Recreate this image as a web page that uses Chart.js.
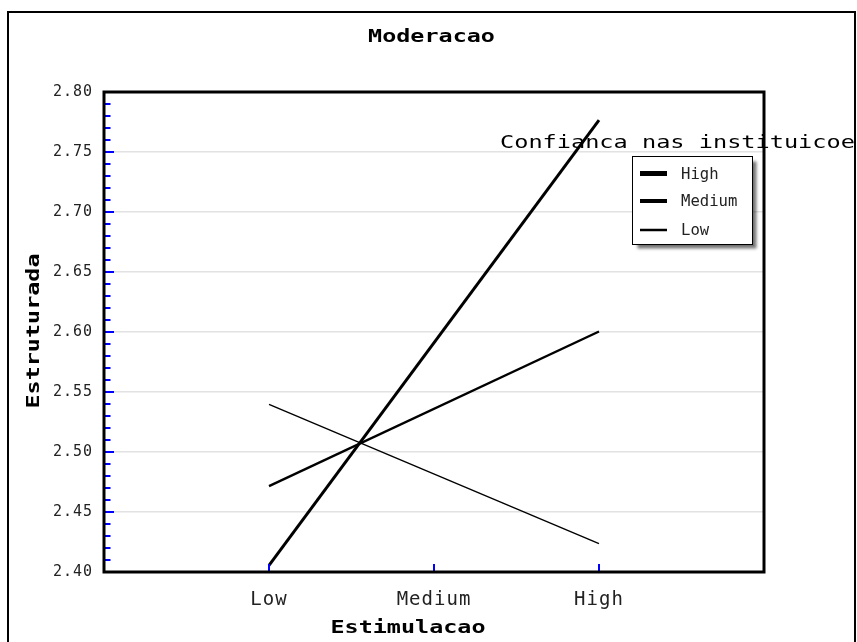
<!DOCTYPE html>
<html>
<head>
<meta charset="utf-8">
<script src="https://cdn.jsdelivr.net/npm/chart.js@4.4.1/dist/chart.umd.min.js"></script>
<style>
  html, body { margin: 0; padding: 0; background: #ffffff; }
  #c { display: block; }
</style>
</head>
<body>
<canvas id="c" width="857" height="642"></canvas>
<script>
// Levels of the focal predictor (x axis)
const levels = ['Low', 'Medium', 'High'];
// Levels at which the simple slopes are evaluated
const plottedLevels = ['Low', 'High'];
// Moderator groups
const seriesNames = ['High', 'Medium', 'Low'];
// Predicted values of the outcome per moderator group
const highValues = [2.4056, 2.7766];
const mediumValues = [2.4716, 2.6004];
const lowValues = [2.5397, 2.4237];
// Y axis ticks
const yTicks = [2.40, 2.45, 2.50, 2.55, 2.60, 2.65, 2.70, 2.75, 2.80];
const yMinorStep = 0.01;

const chartTitle = 'Moderacao';
const xTitle = 'Estimulacao';
const yTitle = 'Estruturada';
const legendTitle = 'Confianca nas instituicoes';

const MONO = '"DejaVu Sans Mono", "Liberation Mono", monospace';

const toPoints = vals => plottedLevels.map((lv, i) => ({ x: levels.indexOf(lv) + 1, y: vals[i] }));

const lineWidths = [3, 2.4, 1.4];
const legendWidths = [5, 4, 2.5];
const seriesValues = [highValues, mediumValues, lowValues];

const datasets = seriesNames.map((name, i) => ({
  label: name,
  data: toPoints(seriesValues[i]),
  showLine: true,
  borderColor: '#000000',
  backgroundColor: '#000000',
  borderWidth: lineWidths[i],
  pointRadius: 0,
  pointHoverRadius: 0,
  tension: 0
}));

// draws text widened horizontally by factor sx
function drawWide(ctx, text, x, y, sx, align) {
  ctx.save();
  ctx.letterSpacing = '0px';
  const w = ctx.measureText(text).width * sx;
  let start = x;
  if (align === 'center') start = x - w / 2;
  else if (align === 'right') start = x - w;
  ctx.translate(start, y);
  ctx.scale(sx, 1);
  ctx.textAlign = 'left';
  ctx.fillText(text, 0, 0);
  ctx.restore();
}

const decorations = {
  id: 'decorations',
  beforeDraw(chart) {
    const ctx = chart.ctx;
    ctx.save();
    ctx.fillStyle = '#ffffff';
    ctx.fillRect(0, 0, chart.width, chart.height);
    ctx.restore();
    ctx.letterSpacing = '1px';
  },
  afterDraw(chart) {
    const ctx = chart.ctx;
    const a = chart.chartArea;
    const xs = chart.scales.x;
    const ys = chart.scales.y;

    ctx.save();
    ctx.fillStyle = '#000000';
    ctx.textBaseline = 'alphabetic';

    // chart title
    ctx.font = 'bold 18px ' + MONO;
    drawWide(ctx, chartTitle, 431.5, 41.5, 1.3, 'center');

    // x axis title
    drawWide(ctx, xTitle, 408, 633, 1.3, 'center');

    // y axis title
    ctx.save();
    ctx.translate(38.5, 331);
    ctx.rotate(-Math.PI / 2);
    drawWide(ctx, yTitle, 0, 0, 1.3, 'center');
    ctx.restore();

    // legend title (runs past the frame)
    ctx.save();
    ctx.beginPath();
    ctx.rect(0, 0, 854, chart.height);
    ctx.clip();
    ctx.font = '18px ' + MONO;
    drawWide(ctx, legendTitle, 500, 148, 1.31, 'left');
    ctx.restore();

    // blue tick marks on the y axis (minor + major)
    ctx.strokeStyle = '#0000ff';
    ctx.lineWidth = 2;
    const nMinor = Math.round((ys.max - ys.min) / yMinorStep);
    for (let k = 0; k <= nMinor; k++) {
      const v = ys.min + k * yMinorStep;
      const py = Math.round(ys.getPixelForValue(v));
      const isMajor = k % 5 === 0;
      ctx.beginPath();
      ctx.moveTo(a.left, py);
      ctx.lineTo(a.left + (isMajor ? 10 : 6.5), py);
      ctx.stroke();
    }
    // blue tick marks on the x axis
    levels.forEach((lv, i) => {
      const px = Math.round(xs.getPixelForValue(i + 1));
      ctx.beginPath();
      ctx.moveTo(px, a.bottom);
      ctx.lineTo(px, a.bottom - 8);
      ctx.stroke();
    });

    // plot frame
    ctx.strokeStyle = '#000000';
    ctx.lineWidth = 3;
    ctx.strokeRect(a.left, a.top, a.right - a.left, a.bottom - a.top);

    // outer frame
    ctx.lineWidth = 2;
    ctx.strokeRect(8, 12, 847, 700);

    // legend box with drop shadow
    const bx = 632.5, by = 156.5, bw = 120, bh = 88;
    ctx.save();
    ctx.shadowColor = 'rgba(0,0,0,0.55)';
    ctx.shadowOffsetX = 4;
    ctx.shadowOffsetY = 4;
    ctx.shadowBlur = 3;
    ctx.fillStyle = '#ffffff';
    ctx.fillRect(bx, by, bw, bh);
    ctx.restore();
    ctx.lineWidth = 1;
    ctx.strokeStyle = '#000000';
    ctx.strokeRect(bx, by, bw, bh);

    const rowY = [173.5, 201, 230];
    ctx.font = '15px ' + MONO;
    ctx.fillStyle = '#222222';
    chart.data.datasets.forEach((ds, i) => {
      ctx.strokeStyle = ds.borderColor;
      ctx.lineWidth = legendWidths[i];
      ctx.beginPath();
      ctx.moveTo(640, rowY[i]);
      ctx.lineTo(667, rowY[i]);
      ctx.stroke();
      drawWide(ctx, ds.label, 681, rowY[i] + 5, 1.04, 'left');
    });

    ctx.restore();
    ctx.letterSpacing = '1px';
  }
};

new Chart(document.getElementById('c'), {
  type: 'scatter',
  data: { datasets },
  options: {
    responsive: false,
    animation: false,
    events: [],
    layout: { padding: { top: 92, right: 93, left: 0, bottom: 0 } },
    plugins: {
      legend: { display: false },
      title: { display: false },
      tooltip: { enabled: false }
    },
    scales: {
      x: {
        type: 'linear',
        min: 0,
        max: 4,
        afterBuildTicks: s => { s.ticks = levels.map((l, i) => ({ value: i + 1 })); },
        afterFit: s => { s.height = 70; },
        ticks: {
          callback: v => levels[v - 1],
          font: { family: MONO, size: 19 },
          color: '#222222',
          padding: 9,
          maxRotation: 0,
          autoSkip: false
        },
        grid: { display: false },
        border: { display: false }
      },
      y: {
        min: 2.4,
        max: 2.8,
        afterBuildTicks: s => { s.ticks = yTicks.map(v => ({ value: v })); },
        afterFit: s => { s.width = 104; },
        ticks: {
          callback: v => v.toFixed(2),
          font: { family: MONO, size: 15 },
          color: '#222222',
          padding: 11
        },
        grid: { color: '#e2e2e2', lineWidth: 1.5, drawTicks: false },
        border: { display: false }
      }
    }
  },
  plugins: [decorations]
});
</script>
</body>
</html>
